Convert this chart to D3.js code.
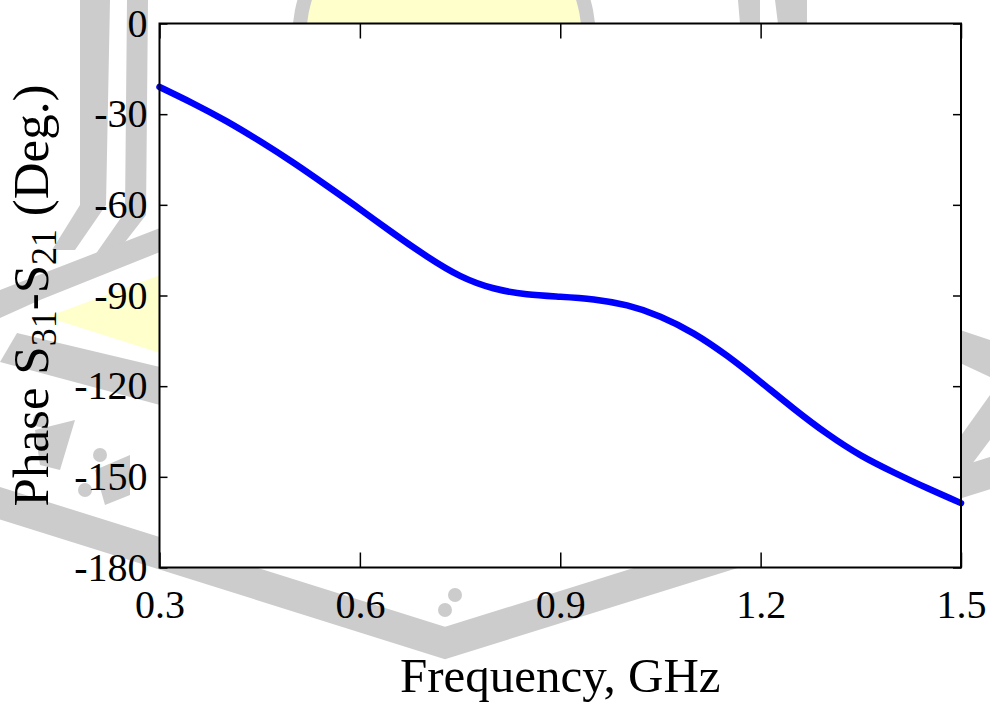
<!DOCTYPE html>
<html>
<head>
<meta charset="utf-8">
<script src="https://cdn.jsdelivr.net/npm/d3@7/dist/d3.min.js"></script>
<style>
  body { margin: 0; background: #fff; }
  text { font-family: "Liberation Serif", "Times New Roman", serif; fill: #000; }
</style>
</head>
<body>
<svg id="chart" width="990" height="702"></svg>
<script>
// data
var freq = [0.30, 0.35, 0.40, 0.45, 0.50, 0.55, 0.60, 0.65, 0.70, 0.75, 0.80, 0.85, 0.90,
            0.95, 1.00, 1.05, 1.10, 1.15, 1.20, 1.25, 1.30, 1.35, 1.40, 1.45, 1.50];
var phase = [-21.0, -26.4, -32.3, -38.9, -46.0, -53.6, -61.4, -69.4, -77.0, -83.5, -87.6, -89.6, -90.4,
             -91.3, -93.3, -97.0, -102.6, -110.0, -118.6, -127.5, -135.8, -142.9, -148.6, -153.8, -158.7];
var xTicks = [0.3, 0.6, 0.9, 1.2, 1.5];
var yTicks = [0, -30, -60, -90, -120, -150, -180];

var data = freq.map(function(f, i) { return {f: f, p: phase[i]}; });

var svg = d3.select("#chart"),
  margin = {top: 23.5, right: 29, bottom: 134.5, left: 159.5},
  width = +svg.attr("width") - margin.left - margin.right,
  height = +svg.attr("height") - margin.top - margin.bottom;

// faint watermark behind the axes
var wm = svg.append("g").attr("class", "watermark");
var grey = "#cccccc", yellow = "#ffffcc";
wm.append("circle").attr("cx", 444).attr("cy", 40).attr("r", 152).attr("fill", grey);
wm.append("circle").attr("cx", 444).attr("cy", 40).attr("r", 138).attr("fill", yellow);
wm.append("path").attr("fill", grey).attr("d", "M80,0 L110,0 L106,205 L75,250 L52,250 L80,205 Z");
wm.append("path").attr("fill", grey).attr("d", "M127,0 L148,0 L146,215 L115,255 L95,255 L125,212 Z");
wm.append("path").attr("fill", grey).attr("d", "M738,0 L760,0 L760,24 L740,24 Z M775,0 L807,0 L807,24 L778,24 Z");
wm.append("path").attr("fill", grey).attr("d", "M160,228 L160,252 L40,300 L0,318 L0,290 Z");
wm.append("path").attr("fill", yellow).attr("d", "M160,275 L160,353 L47,317 Z");
wm.append("path").attr("fill", grey).attr("d", "M17,333 L160,367 L160,405 L0,362 Z");
wm.append("path").attr("fill", "none").attr("stroke", grey).attr("stroke-width", 31)
  .attr("d", "M-10,500 L445,643 L1000,470");
wm.append("path").attr("fill", grey).attr("d", "M960,330 L990,340 L990,377 L960,363 Z");
wm.append("path").attr("fill", grey).attr("d", "M960,437 L990,395 L990,440 L960,480 Z");
wm.append("g").attr("fill", grey).selectAll("circle")
  .data([[40, 420], [100, 455], [85, 490], [455, 595], [445, 610]]).enter().append("circle")
  .attr("cx", function(d) { return d[0]; }).attr("cy", function(d) { return d[1]; }).attr("r", 7);
wm.append("path").attr("fill", grey).attr("d", "M35,430 L75,420 L60,470 L40,465 Z M95,470 L130,455 L130,495 L105,505 Z");

var main = svg.append("g").attr("transform", "translate(" + margin.left + "," + margin.top + ")");

main.append("rect").attr("width", width).attr("height", height).attr("fill", "#fff");

var x = d3.scaleLinear().domain([0.3, 1.5]).range([0, width]);
var y = d3.scaleLinear().domain([-180, 0]).range([height, 0]);

var xaxis = d3.axisBottom(x).tickValues(xTicks).tickSizeInner(-15).tickSizeOuter(0)
  .tickFormat(d3.format(".1f"));
var xtop = d3.axisTop(x).tickValues(xTicks).tickSizeInner(-15).tickSizeOuter(0).tickFormat("");
var yaxis = d3.axisLeft(y).tickValues(yTicks).tickSizeInner(-8).tickSizeOuter(0)
  .tickFormat(function(d) { return String(d); });
var yright = d3.axisRight(y).tickValues(yTicks).tickSizeInner(-8).tickSizeOuter(0).tickFormat("");

var gx = main.append("g").attr("transform", "translate(0," + height + ")").call(xaxis);
main.append("g").call(xtop);
var gy = main.append("g").call(yaxis);
main.append("g").attr("transform", "translate(" + width + ",0)").call(yright);

main.selectAll(".domain").remove();
main.selectAll(".tick line").attr("stroke", "#000").attr("stroke-width", 1.5);

gx.selectAll("text").attr("y", 50.5).attr("dy", null)
  .style("font-size", "40px").attr("fill", "#000");
gy.selectAll("text").attr("x", -12).attr("dy", "0.32em")
  .style("font-size", "40px").attr("fill", "#000");

var line = d3.line()
  .x(function(d) { return x(d.f); })
  .y(function(d) { return y(d.p); })
  .curve(d3.curveNatural);

main.append("path")
  .datum(data)
  .attr("fill", "none")
  .attr("stroke", "#0000ff")
  .attr("stroke-width", 6.5)
  .attr("stroke-linecap", "round")
  .attr("d", line);

main.append("rect").attr("width", width).attr("height", height)
  .attr("fill", "none").attr("stroke", "#000").attr("stroke-width", 2);

// axis labels
svg.append("text")
  .attr("x", margin.left + width / 2).attr("y", 692)
  .attr("text-anchor", "middle").style("font-size", "49px")
  .text("Frequency, GHz");

var ylab = svg.append("text")
  .attr("transform", "translate(48," + (margin.top + height / 2) + ") rotate(-90)")
  .attr("text-anchor", "middle").style("font-size", "51px");
ylab.append("tspan").text("Phase S");
ylab.append("tspan").attr("baseline-shift", "-22%").style("font-size", "36px").text("31");
ylab.append("tspan").text("-S");
ylab.append("tspan").attr("baseline-shift", "-22%").style("font-size", "36px").text("21");
ylab.append("tspan").text(" (Deg.)");
</script>
</body>
</html>
